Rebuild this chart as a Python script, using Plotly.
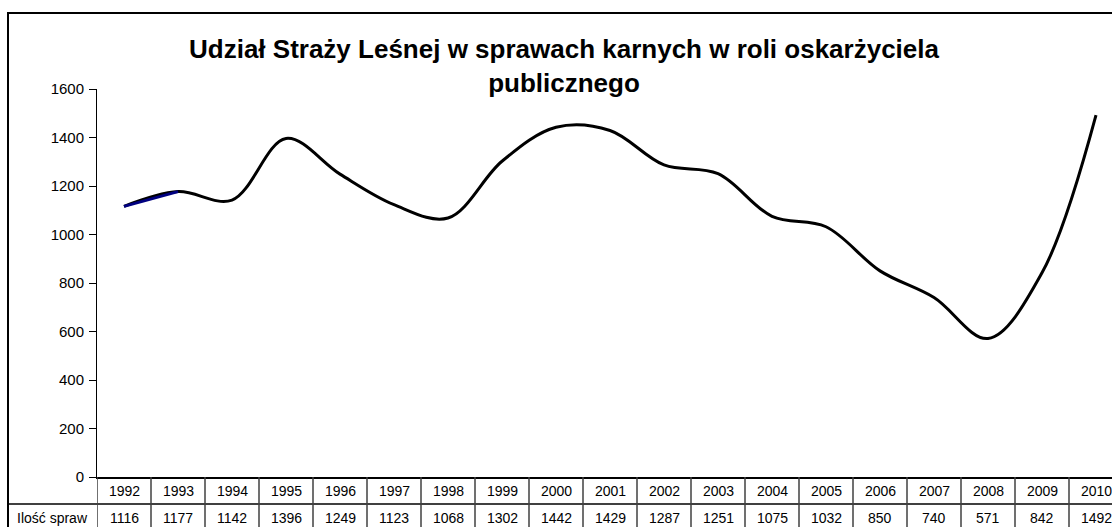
import plotly.graph_objects as go

years = ["1992", "1993", "1994", "1995", "1996", "1997", "1998", "1999", "2000", "2001",
         "2002", "2003", "2004", "2005", "2006", "2007", "2008", "2009", "2010"]
cases = [1116, 1177, 1142, 1396, 1249, 1123, 1068, 1302, 1442, 1429,
         1287, 1251, 1075, 1032, 850, 740, 571, 842, 1492]
row_label = "Ilość spraw"
title = "Udział Straży Leśnej w sprawach karnych w roli oskarżyciela<br>publicznego"

W, H = 1112, 527
L, T, B = 97, 89, 477          # plot area in pixels
PH = B - T
PW = W - L
COL = 54                       # width of one table column in pixels


def px(x):
    return (x - L) / PW


def py(y):
    return (B - y) / PH


idx = list(range(len(years)))
fig = go.Figure()

# smoothed line (Excel style)
fig.add_trace(go.Scatter(
    x=idx, y=cases, mode="lines", line=dict(color="black", width=3, shape="spline"),
    showlegend=False, hoverinfo="x+y",
))
# first segment drawn in navy, as in the source chart
fig.add_trace(go.Scatter(
    x=idx[:2], y=cases[:2], mode="lines", line=dict(color="#000080", width=3, shape="spline"),
    showlegend=False, hoverinfo="skip",
))

shapes = []
annotations = []

# outer chart border (runs off the right and bottom edges like the source)
shapes.append(dict(type="rect", xref="paper", yref="paper",
                   x0=px(8), x1=px(1130), y0=py(560), y1=py(13),
                   line=dict(color="black", width=2)))

# data table grid
row_sep = 504
shapes.append(dict(type="line", xref="paper", yref="paper",
                   x0=px(8), x1=px(1130), y0=py(row_sep), y1=py(row_sep),
                   line=dict(color="black", width=1.5)))
for k in range(len(years) + 1):
    shapes.append(dict(type="line", xref="x", yref="paper",
                       x0=k - 0.5, x1=k - 0.5, y0=py(B), y1=py(560),
                       line=dict(color="#404040", width=1.5)))

cell = dict(showarrow=False, xanchor="center", yanchor="middle",
            font=dict(size=14, color="black"))
for i, (yr, v) in enumerate(zip(years, cases)):
    annotations.append(dict(x=i, y=py(490.5), xref="x", yref="paper", text=yr, **cell))
    annotations.append(dict(x=i, y=py(518), xref="x", yref="paper", text=str(v), **cell))
annotations.append(dict(x=px(52), y=py(518), xref="paper", yref="paper", text=row_label, **cell))

# title
annotations.append(dict(x=px(564), y=py(66), xref="paper", yref="paper",
                        text="<b>" + title.replace("<br>", "</b><br><b>") + "</b>",
                        showarrow=False, font=dict(size=26, color="black"),
                        xanchor="center", yanchor="middle"))

fig.update_layout(
    width=W, height=H,
    margin=dict(l=L, r=0, t=T, b=H - B, pad=0),
    paper_bgcolor="white", plot_bgcolor="white",
    font=dict(family="Liberation Sans, Arial, sans-serif", color="black", size=14),
    showlegend=False,
    shapes=shapes,
    annotations=annotations,
    xaxis=dict(range=[-0.5, len(years) - 0.5 - (L + COL * len(years) - W) / COL],
               showticklabels=False, showgrid=False, zeroline=False,
               showline=True, linecolor="black", linewidth=1.5, ticks=""),
    yaxis=dict(range=[0, 1600], dtick=200, showgrid=False, zeroline=False,
               showline=True, linecolor="black", linewidth=1,
               ticks="outside", ticklen=7, tickcolor="black",
               ticklabelstandoff=2,
               tickfont=dict(size=15, color="black")),
)

# drop the default page margin so the figure fills the window exactly
fig.write_html("out.html", config={"displayModeBar": False},
               post_script="document.body.style.margin='0';document.body.style.overflow='hidden';")
